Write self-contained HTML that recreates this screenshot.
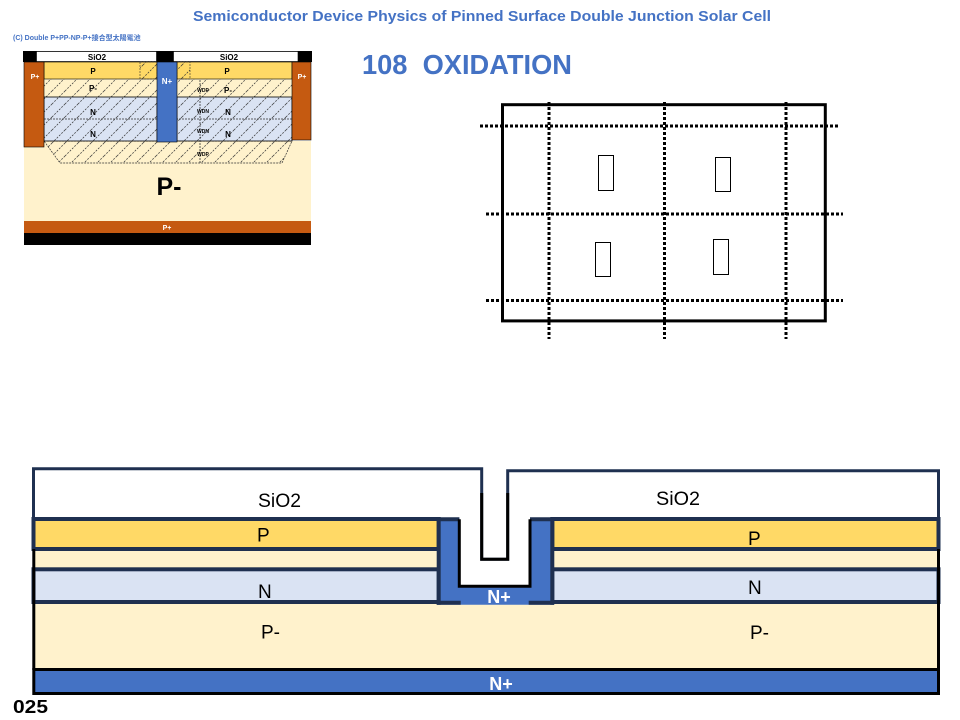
<!DOCTYPE html>
<html>
<head>
<meta charset="utf-8">
<style>
  html,body{margin:0;padding:0;background:#fff;}
  svg{display:block;}
  text{font-family:"Liberation Sans","Noto Sans CJK TC",sans-serif;}
</style>
</head>
<body>
<svg width="960" height="720" viewBox="0 0 960 720" xmlns="http://www.w3.org/2000/svg">
  <defs>
    <pattern id="h" patternUnits="userSpaceOnUse" width="13" height="13">
      <path d="M0,13 L13,0 M-3,3 L3,-3 M10,16 L16,10" stroke="#333" stroke-width="0.7" stroke-dasharray="2 1.3" fill="none"/>
    </pattern>
  </defs>
  <rect width="960" height="720" fill="#fff"/>

  <!-- Title -->
  <text x="193" y="21" font-size="15" font-weight="bold" fill="#4472c4" textLength="578" lengthAdjust="spacingAndGlyphs">Semiconductor Device Physics of Pinned Surface Double Junction Solar Cell</text>

  <!-- Step heading -->
  <text x="362" y="74" font-size="28" font-weight="bold" fill="#4472c4" textLength="210" lengthAdjust="spacingAndGlyphs" xml:space="preserve">108  OXIDATION</text>

  <!-- ========== Thumbnail ========== -->
  <text x="13" y="40" font-size="7" font-weight="bold" fill="#4472c4">(C) Double P+PP-NP-P+接合型太陽電池</text>

  <rect x="23" y="51" width="289" height="11" fill="#000"/>
  <rect x="36.5" y="51.5" width="120" height="10" fill="#fff" stroke="#000" stroke-width="0.6"/>
  <rect x="173.5" y="51.5" width="124.5" height="10" fill="#fff" stroke="#000" stroke-width="0.6"/>
  <text x="97" y="60" font-size="8" font-weight="bold" text-anchor="middle">SiO2</text>
  <text x="229" y="60" font-size="8" font-weight="bold" text-anchor="middle">SiO2</text>

  <!-- big P- -->
  <rect x="24" y="141" width="287" height="80" fill="#fff2cc"/>
  <!-- trapezoid depletion -->
  <polygon points="44,141 292,141 282,163 60,163" fill="url(#h)" stroke="#333" stroke-width="0.7" stroke-dasharray="2 1"/>

  <!-- P- band -->
  <rect x="44" y="79" width="113" height="18" fill="#fff2cc"/>
  <rect x="177" y="79" width="115" height="18" fill="#fff2cc"/>
  <rect x="44" y="79" width="113" height="18" fill="url(#h)"/>
  <rect x="177" y="79" width="115" height="18" fill="url(#h)"/>

  <!-- N band -->
  <rect x="44" y="97" width="113" height="44" fill="#dae3f3" stroke="#000" stroke-width="0.8"/>
  <rect x="177" y="97" width="115" height="44" fill="#dae3f3" stroke="#000" stroke-width="0.8"/>
  <rect x="44" y="97" width="113" height="44" fill="url(#h)"/>
  <rect x="177" y="97" width="115" height="44" fill="url(#h)"/>
  <line x1="44" y1="119" x2="292" y2="119" stroke="#333" stroke-width="0.7" stroke-dasharray="2 1"/>

  <!-- P yellow -->
  <rect x="44" y="62" width="113" height="17" fill="#ffd966" stroke="#000" stroke-width="0.6"/>
  <rect x="177" y="62" width="115" height="17" fill="#ffd966" stroke="#000" stroke-width="0.6"/>
  <rect x="140" y="62" width="17" height="17" fill="url(#h)" stroke="#333" stroke-width="0.6" stroke-dasharray="2 1"/>
  <rect x="177" y="62" width="13" height="17" fill="url(#h)" stroke="#333" stroke-width="0.6" stroke-dasharray="2 1"/>

  <!-- P+ sides -->
  <rect x="24" y="62" width="20" height="85" fill="#c55a11" stroke="#000" stroke-width="0.6"/>
  <rect x="292" y="62" width="19" height="78" fill="#c55a11" stroke="#000" stroke-width="0.6"/>
  <!-- N+ -->
  <rect x="157" y="62" width="20" height="80" fill="#4472c4" stroke="#000" stroke-width="0.6"/>

  <!-- bottom P+ and black -->
  <rect x="24" y="221" width="287" height="12" fill="#c55a11"/>
  <rect x="24" y="233" width="287" height="12" fill="#000"/>

  <!-- WD line -->
  <line x1="200" y1="80" x2="200" y2="163" stroke="#333" stroke-width="0.8" stroke-dasharray="2 1"/>

  <!-- thumbnail labels -->
  <text x="35" y="79" font-size="7" font-weight="bold" fill="#fff" text-anchor="middle">P+</text>
  <text x="302" y="79" font-size="7" font-weight="bold" fill="#fff" text-anchor="middle">P+</text>
  <text x="167" y="84" font-size="8" font-weight="bold" fill="#fff" text-anchor="middle">N+</text>
  <text x="93" y="74" font-size="8" font-weight="bold" text-anchor="middle">P</text>
  <text x="227" y="74" font-size="8" font-weight="bold" text-anchor="middle">P</text>
  <text x="93" y="91" font-size="8" font-weight="bold" text-anchor="middle">P-</text>
  <text x="228" y="93" font-size="8" font-weight="bold" text-anchor="middle">P-</text>
  <text x="93" y="115" font-size="8" font-weight="bold" text-anchor="middle">N</text>
  <text x="93" y="137" font-size="8" font-weight="bold" text-anchor="middle">N</text>
  <text x="228" y="115" font-size="8" font-weight="bold" text-anchor="middle">N</text>
  <text x="228" y="137" font-size="8" font-weight="bold" text-anchor="middle">N</text>
  <text x="203" y="92" font-size="5" font-weight="bold" text-anchor="middle">WDP</text>
  <text x="203" y="113" font-size="5" font-weight="bold" text-anchor="middle">WDN</text>
  <text x="203" y="133" font-size="5" font-weight="bold" text-anchor="middle">WDN</text>
  <text x="203" y="156" font-size="5" font-weight="bold" text-anchor="middle">WDP</text>
  <text x="169" y="195" font-size="25" font-weight="bold" text-anchor="middle">P-</text>
  <text x="167" y="230" font-size="7" font-weight="bold" fill="#fff" text-anchor="middle">P+</text>

  <!-- ========== Grid diagram ========== -->
  <rect x="502.5" y="104.7" width="322.8" height="216.2" fill="none" stroke="#000" stroke-width="3"/>
  <g stroke="#000" stroke-width="3" stroke-dasharray="3 2" fill="none">
    <line x1="480" y1="126" x2="838" y2="126"/>
    <line x1="486" y1="214" x2="843" y2="214"/>
    <line x1="486" y1="300.5" x2="843" y2="300.5"/>
    <line x1="549" y1="102" x2="549" y2="339"/>
    <line x1="664.5" y1="102" x2="664.5" y2="339"/>
    <line x1="786" y1="102" x2="786" y2="339"/>
  </g>
  <g fill="#fff" stroke="#000" stroke-width="1">
    <rect x="598.5" y="155.5" width="15" height="35"/>
    <rect x="715.5" y="157.5" width="15" height="34"/>
    <rect x="595.5" y="242.5" width="15" height="34"/>
    <rect x="713.5" y="239.5" width="15" height="35"/>
  </g>

  <!-- ========== Cross-section ========== -->
  <!-- substrate peach -->
  <rect x="33" y="549" width="905" height="120" fill="#fff2cc"/>
  <!-- white SiO2 inside the U -->
  <rect x="459" y="515" width="71.5" height="71" fill="#fff"/>
  <!-- P layers -->
  <rect x="33.5" y="519" width="405.2" height="30" fill="#ffd966" stroke="#1f3050" stroke-width="4"/>
  <rect x="552.3" y="519" width="386.2" height="30" fill="#ffd966" stroke="#1f3050" stroke-width="4"/>
  <!-- N layers -->
  <rect x="33.5" y="569.3" width="405.2" height="32.7" fill="#dae3f3" stroke="#1f3050" stroke-width="4"/>
  <rect x="552.3" y="569.3" width="386.2" height="32.7" fill="#dae3f3" stroke="#1f3050" stroke-width="4"/>
  <!-- substrate side lines -->
  <line x1="33.8" y1="549" x2="33.8" y2="670" stroke="#000" stroke-width="3"/>
  <line x1="938.5" y1="549" x2="938.5" y2="670" stroke="#000" stroke-width="3"/>
  <!-- bottom N+ -->
  <rect x="33.8" y="669.5" width="904.7" height="24" fill="#4472c4" stroke="#000" stroke-width="3"/>

  <!-- N+ U shape -->
  <polygon points="437,517.5 459.5,517.5 459.5,586 530,586 530,517.5 554,517.5 554,604.7 437,604.7" fill="#4472c4"/>
  <path d="M438.7 604.7 V519.3 H459.3" fill="none" stroke="#1f3050" stroke-width="4"/>
  <path d="M530 519.3 H552.3 V604.7" fill="none" stroke="#1f3050" stroke-width="4"/>
  <path d="M459.3 519.3 V586.3 H530 V519.3" fill="none" stroke="#000" stroke-width="3"/>
  <path d="M436.7 602.7 H460.7 M528.7 602.7 H554" fill="none" stroke="#1f3050" stroke-width="4"/>

  <!-- SiO2 outline with trench -->
  <path d="M33.5 519 V468.7 H481.7 V559.3 H507.7 V470.7 H938.5 V519" fill="none" stroke="#1f3050" stroke-width="3"/>
  <path d="M481.7 493 V559.3 H507.7 V493" fill="none" stroke="#000" stroke-width="3"/>

  <!-- labels -->
  <g font-size="19" fill="#000">
    <text x="258" y="507" textLength="43" lengthAdjust="spacingAndGlyphs">SiO2</text>
    <text x="656" y="505" textLength="44" lengthAdjust="spacingAndGlyphs">SiO2</text>
    <text x="257" y="541.5">P</text>
    <text x="748" y="545">P</text>
    <text x="258" y="598">N</text>
    <text x="748" y="594">N</text>
    <text x="261" y="638.5">P-</text>
    <text x="750" y="639">P-</text>
  </g>
  <text x="499" y="603" font-size="18" font-weight="bold" fill="#fff" text-anchor="middle">N+</text>
  <text x="501" y="690" font-size="18" font-weight="bold" fill="#fff" text-anchor="middle">N+</text>

  <text x="13" y="713" font-size="18" font-weight="bold" fill="#000" textLength="35" lengthAdjust="spacingAndGlyphs">025</text>
</svg>
</body>
</html>
